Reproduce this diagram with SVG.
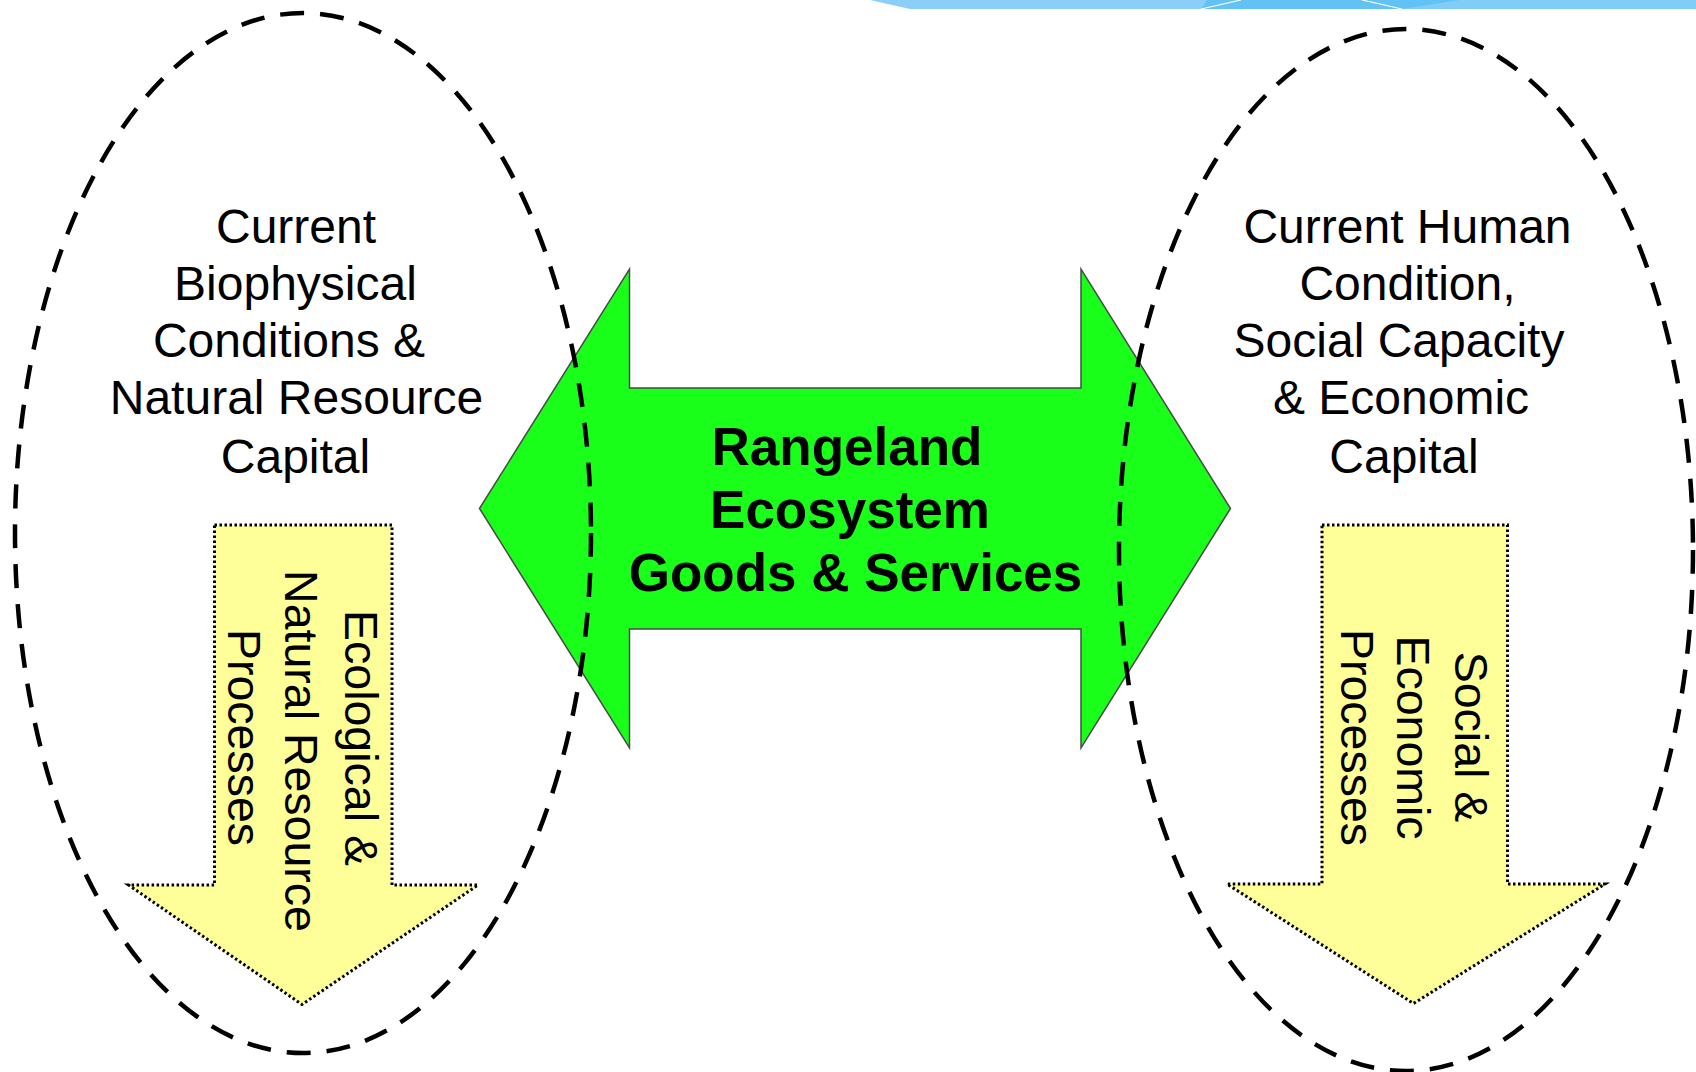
<svg xmlns="http://www.w3.org/2000/svg" width="1696" height="1072" viewBox="0 0 1696 1072">
<style>
.ell{fill:none;stroke:#000;stroke-width:4.5;stroke-dasharray:24 16}
.yel{fill:#ffff99;stroke:#000;stroke-width:3;stroke-dasharray:2.5 2.5}
.grn{fill:#1aff1a;stroke:#4a4a4a;stroke-width:1.5}
.t{font-family:"Liberation Sans",Arial,sans-serif;font-size:48px;fill:#000;text-anchor:middle}
.v{font-family:"Liberation Sans",Arial,sans-serif;font-size:46.5px;fill:#000;text-anchor:middle}
.b{font-family:"Liberation Sans",Arial,sans-serif;font-size:53px;font-weight:bold;fill:#000;text-anchor:middle}
</style>
<rect width="1696" height="1072" fill="#fff"/>
<g id="top-band">
<polygon points="870,0 1696,0 1696,9 910,9" fill="#8bcff8"/>
<polygon points="1460,0 1696,0 1696,9 1402,9" fill="#80cdf8"/>
<polygon points="1207,0 1460,0 1402,9 1201,9" fill="#62c1f5"/>
<line x1="1201" y1="9" x2="1241" y2="0" stroke="#fff" stroke-width="1.2"/>
<line x1="1362" y1="0" x2="1402" y2="9" stroke="#fff" stroke-width="1.2"/>
</g>
<g id="ecological-processes">
<polygon class="yel" points="214.5,525 392,525 392,885 478,885 302,1004.5 128.5,885 214.5,885"/>
<text class="v" transform="rotate(90)"><tspan x="738" y="-345">Ecological &amp;</tspan><tspan x="751" y="-285">Natural Resource</tspan><tspan x="737.5" y="-228">Processes</tspan></text>
</g>
<g id="social-economic-processes">
<polygon class="yel" points="1322,525 1507.5,525 1507.5,884 1605,884 1413.5,1003.5 1227,884 1322,884"/>
<text class="v" transform="rotate(90)"><tspan x="737" y="-1455">Social &amp;</tspan><tspan x="737.5" y="-1397">Economic</tspan><tspan x="737.5" y="-1341">Processes</tspan></text>
</g>
<g id="goods-services">
<polygon class="grn" points="479.5,508.5 629.5,269 629.5,388 1081,388 1081,269 1230.5,508.5 1081,748 1081,629 629.5,629 629.5,748"/>
<text class="b"><tspan x="847" y="465">Rangeland</tspan><tspan x="850" y="528">Ecosystem</tspan><tspan x="855.5" y="591">Goods &amp; Services</tspan></text>
</g>
<g id="biophysical-capital">
<ellipse class="ell" cx="303" cy="533" rx="288" ry="520"/>
<text class="t"><tspan x="296" y="242.5">Current</tspan><tspan x="295.5" y="300">Biophysical</tspan><tspan x="289" y="357">Conditions &amp;</tspan><tspan x="296.5" y="414">Natural Resource</tspan><tspan x="295.5" y="472.5">Capital</tspan></text>
</g>
<g id="human-capital">
<ellipse class="ell" cx="1406" cy="550" rx="287" ry="521"/>
<text class="t"><tspan x="1407.5" y="242.5">Current Human</tspan><tspan x="1407.5" y="300">Condition,</tspan><tspan x="1399" y="357">Social Capacity</tspan><tspan x="1401" y="414">&amp; Economic</tspan><tspan x="1404" y="472.5">Capital</tspan></text>
</g>
<g id="connectors"/>
</svg>
